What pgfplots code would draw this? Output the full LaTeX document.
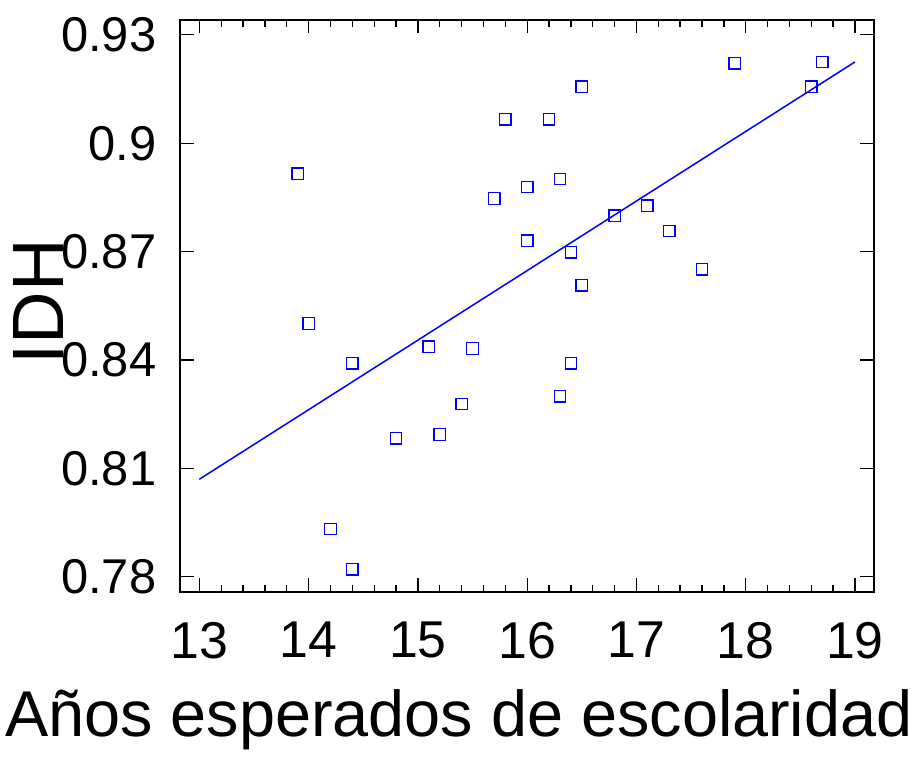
\documentclass[border=0pt]{standalone}
\usepackage{fontspec}
\setmainfont{Liberation Sans}
\usepackage{pgfplots}
\pgfplotsset{compat=1.18}
\begin{document}
\begin{tikzpicture}
\path[use as bounding box] (-180bp,-166bp) rectangle (743bp,592bp);
\begin{axis}[
  scale only axis, width=694bp, height=572bp,
  at={(0,0)}, anchor=south west,
  xmin=12.823, xmax=19.174, ymin=0.7758, ymax=0.9341,
  xtick={13,14,15,16,17,18,19},
  ytick={0.78,0.81,0.84,0.87,0.90,0.93},
  yticklabels={0.78,0.81,0.84,0.87,0.9,0.93},
  xticklabels={13,14,15,16,17,18,19},
  minor x tick num=4,
  tick align=inside, tick pos=both,
  xticklabel pos=lower, yticklabel pos=left,
  major tick length=13.5bp, minor tick length=7bp,
  axis line style={line width=1.6bp},
  every tick/.style={black, line width=1.3bp},
  /pgf/number format/assume math mode=true,
  xticklabel style={font=\fontsize{52}{56}\selectfont, inner sep=0pt, yshift=-29.7bp},
  yticklabel style={font=\fontsize{49}{54}\selectfont, inner sep=0pt, xshift=-23.5bp},
  xlabel={Años esperados de escolaridad},
  xlabel style={font=\fontsize{65}{70}\selectfont, at={(axis description cs:0.5,0)}, anchor=base, inner sep=0pt, yshift=-144.7bp, xshift=-68bp},
  ylabel={IDH},
  ylabel style={font=\fontsize{73}{80}\selectfont, at={(axis description cs:-0.2406,0.5075)}, anchor=north, inner sep=0pt},
  clip=false,
]
\addplot[blue, line width=1.5bp] coordinates {(13,0.8070) (19,0.9225)};
\addplot[only marks, mark=square, mark size=5.7bp, blue, mark options={line width=1.3bp, fill=none}] coordinates {
(13.9,0.8916)
(14.0,0.8501)
(14.4,0.8391)
(14.2,0.7932)
(14.4,0.7821)
(14.8,0.8183)
(15.1,0.8437)
(15.2,0.8194)
(15.4,0.8278)
(15.5,0.8432)
(15.7,0.8847)
(15.8,0.9066)
(16.0,0.8879)
(16.0,0.8730)
(16.2,0.9066)
(16.3,0.8901)
(16.3,0.8300)
(16.4,0.8698)
(16.4,0.8391)
(16.5,0.9156)
(16.5,0.8607)
(16.8,0.8799)
(17.1,0.8827)
(17.3,0.8757)
(17.6,0.8651)
(17.9,0.9221)
(18.6,0.9156)
(18.7,0.9225)
};
\end{axis}
\end{tikzpicture}
\end{document}
